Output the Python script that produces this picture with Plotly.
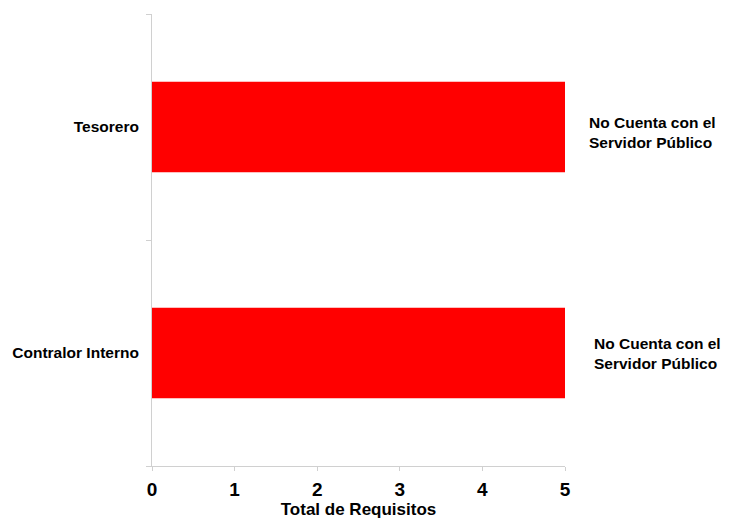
import plotly.graph_objects as go

categories = ["Contralor Interno", "Tesorero"]
values = [5, 5]
notes = ["No Cuenta con el<br>Servidor Público", "No Cuenta con el<br>Servidor Público"]
x_ticks = [0, 1, 2, 3, 4, 5]

FONT = "Liberation Sans, Arial, sans-serif"
PAGE_OFFSET = 8  # default body margin of the written html page

fig = go.Figure(go.Bar(
    x=values, y=categories, orientation="h",
    marker=dict(color="#FF0000", line=dict(width=0)),
    width=0.4,
))

note_xshift = {"Contralor Interno": 27, "Tesorero": 22}
note_yshift = {"Contralor Interno": 0, "Tesorero": -5}
for cat, v, note in zip(categories, values, notes):
    fig.add_annotation(
        x=v, y=cat, xref="x", yref="y", text="<b>" + note + "</b>",
        showarrow=False, xanchor="left", yanchor="middle", align="left",
        xshift=note_xshift[cat], yshift=note_yshift[cat],
        font=dict(family=FONT, size=15.5, color="black"),
    )

fig.update_layout(
    width=731, height=518,
    margin=dict(l=152 - PAGE_OFFSET, r=166 + PAGE_OFFSET, t=14 - PAGE_OFFSET, b=52 + PAGE_OFFSET),
    paper_bgcolor="white", plot_bgcolor="white",
    showlegend=False,
    font=dict(family=FONT, color="black"),
    xaxis=dict(
        range=[0, 5], tickvals=x_ticks, ticktext=["<b>%d</b>" % t for t in x_ticks],
        tickfont=dict(family=FONT, size=19, color="black"),
        showgrid=False, zeroline=False, automargin=False,
        showline=True, linecolor="#d0d0d0", linewidth=1,
        ticks="outside", ticklen=4, tickcolor="#d0d0d0",
        ticklabelstandoff=2,
        title=dict(text="<b>Total de Requisitos</b>", font=dict(family=FONT, size=17, color="black"), standoff=3),
    ),
    yaxis=dict(
        categoryorder="array", categoryarray=categories,
        range=[-0.5, 1.5], automargin=False,
        tickvals=categories, ticktext=["<b>%s</b>" % c for c in categories],
        tickfont=dict(family=FONT, size=15.5, color="black"),
        showgrid=False, zeroline=False,
        showline=True, linecolor="#d0d0d0", linewidth=1,
        ticks="outside", ticklen=5, tickcolor="#d0d0d0", tickson="boundaries",
        ticklabelstandoff=9,
    ),
)

fig.write_html("out.html")
